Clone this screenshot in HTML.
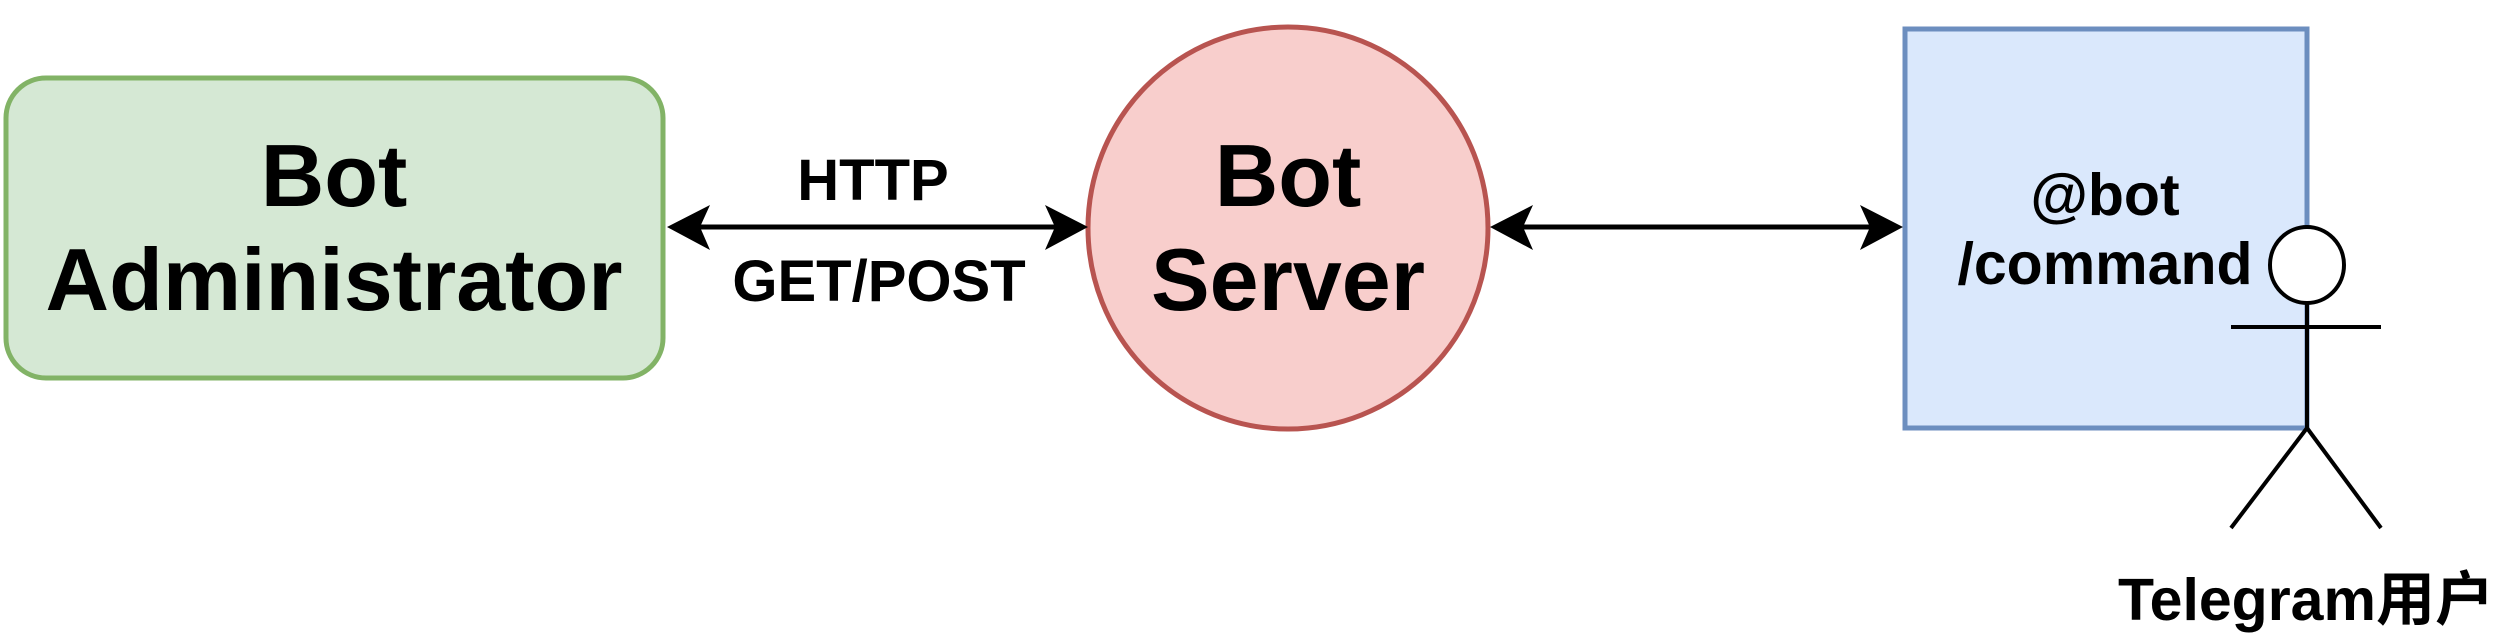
<!DOCTYPE html>
<html><head><meta charset="utf-8"><style>html,body{margin:0;padding:0;background:#fff}svg{display:block}</style></head>
<body>
<svg width="2498" height="639" viewBox="0 0 2498 639" xmlns="http://www.w3.org/2000/svg" font-family="'Liberation Sans','Noto Sans CJK SC',sans-serif" font-weight="bold">
<rect x="6" y="78" width="657" height="300" rx="40" ry="40" fill="#d5e8d4" stroke="#82b366" stroke-width="5"/>
<text x="334" y="206" font-size="88" text-anchor="middle">Bot</text>
<text x="334" y="310" font-size="88" text-anchor="middle">Administrator</text>
<ellipse cx="1288" cy="228" rx="200" ry="201" fill="#f8cecc" stroke="#b85450" stroke-width="5"/>
<text x="1288" y="206" font-size="88" text-anchor="middle">Bot</text>
<text x="1288" y="310" font-size="88" text-anchor="middle">Server</text>
<rect x="1905" y="29" width="402" height="399" fill="#dae8fc" stroke="#6c8ebf" stroke-width="5"/>
<text x="2105" y="215" font-size="59" text-anchor="middle">@bot</text>
<text x="2105" y="284" font-size="59" text-anchor="middle">/command</text>
<!-- arrow 1 -->
<line x1="700" y1="227" x2="1055" y2="227" stroke="#000" stroke-width="5"/>
<path d="M667 227 L710 205 L700 227 L710 250 Z" fill="#000"/>
<path d="M1088 227 L1045 205 L1055 227 L1045 250 Z" fill="#000"/>
<text x="873" y="200" font-size="58" text-anchor="middle">HTTP</text>
<text x="879" y="301" font-size="58" text-anchor="middle">GET/POST</text>
<!-- arrow 2 -->
<line x1="1522" y1="227" x2="1870" y2="227" stroke="#000" stroke-width="5"/>
<path d="M1490 227 L1533 205 L1523 227 L1533 250 Z" fill="#000"/>
<path d="M1903 227 L1860 205 L1870 227 L1860 250 Z" fill="#000"/>
<!-- stick figure -->
<g stroke="#000" stroke-width="4" fill="none">
<ellipse cx="2307" cy="265" rx="37" ry="38" fill="#fff"/>
<line x1="2307" y1="303" x2="2307" y2="428"/>
<line x1="2231" y1="327" x2="2381" y2="327"/>
<line x1="2307" y1="428" x2="2231" y2="528"/>
<line x1="2307" y1="428" x2="2381" y2="528"/>
</g>
<text x="2118" y="620" font-size="59">Telegram用户</text>
</svg>
</body></html>
